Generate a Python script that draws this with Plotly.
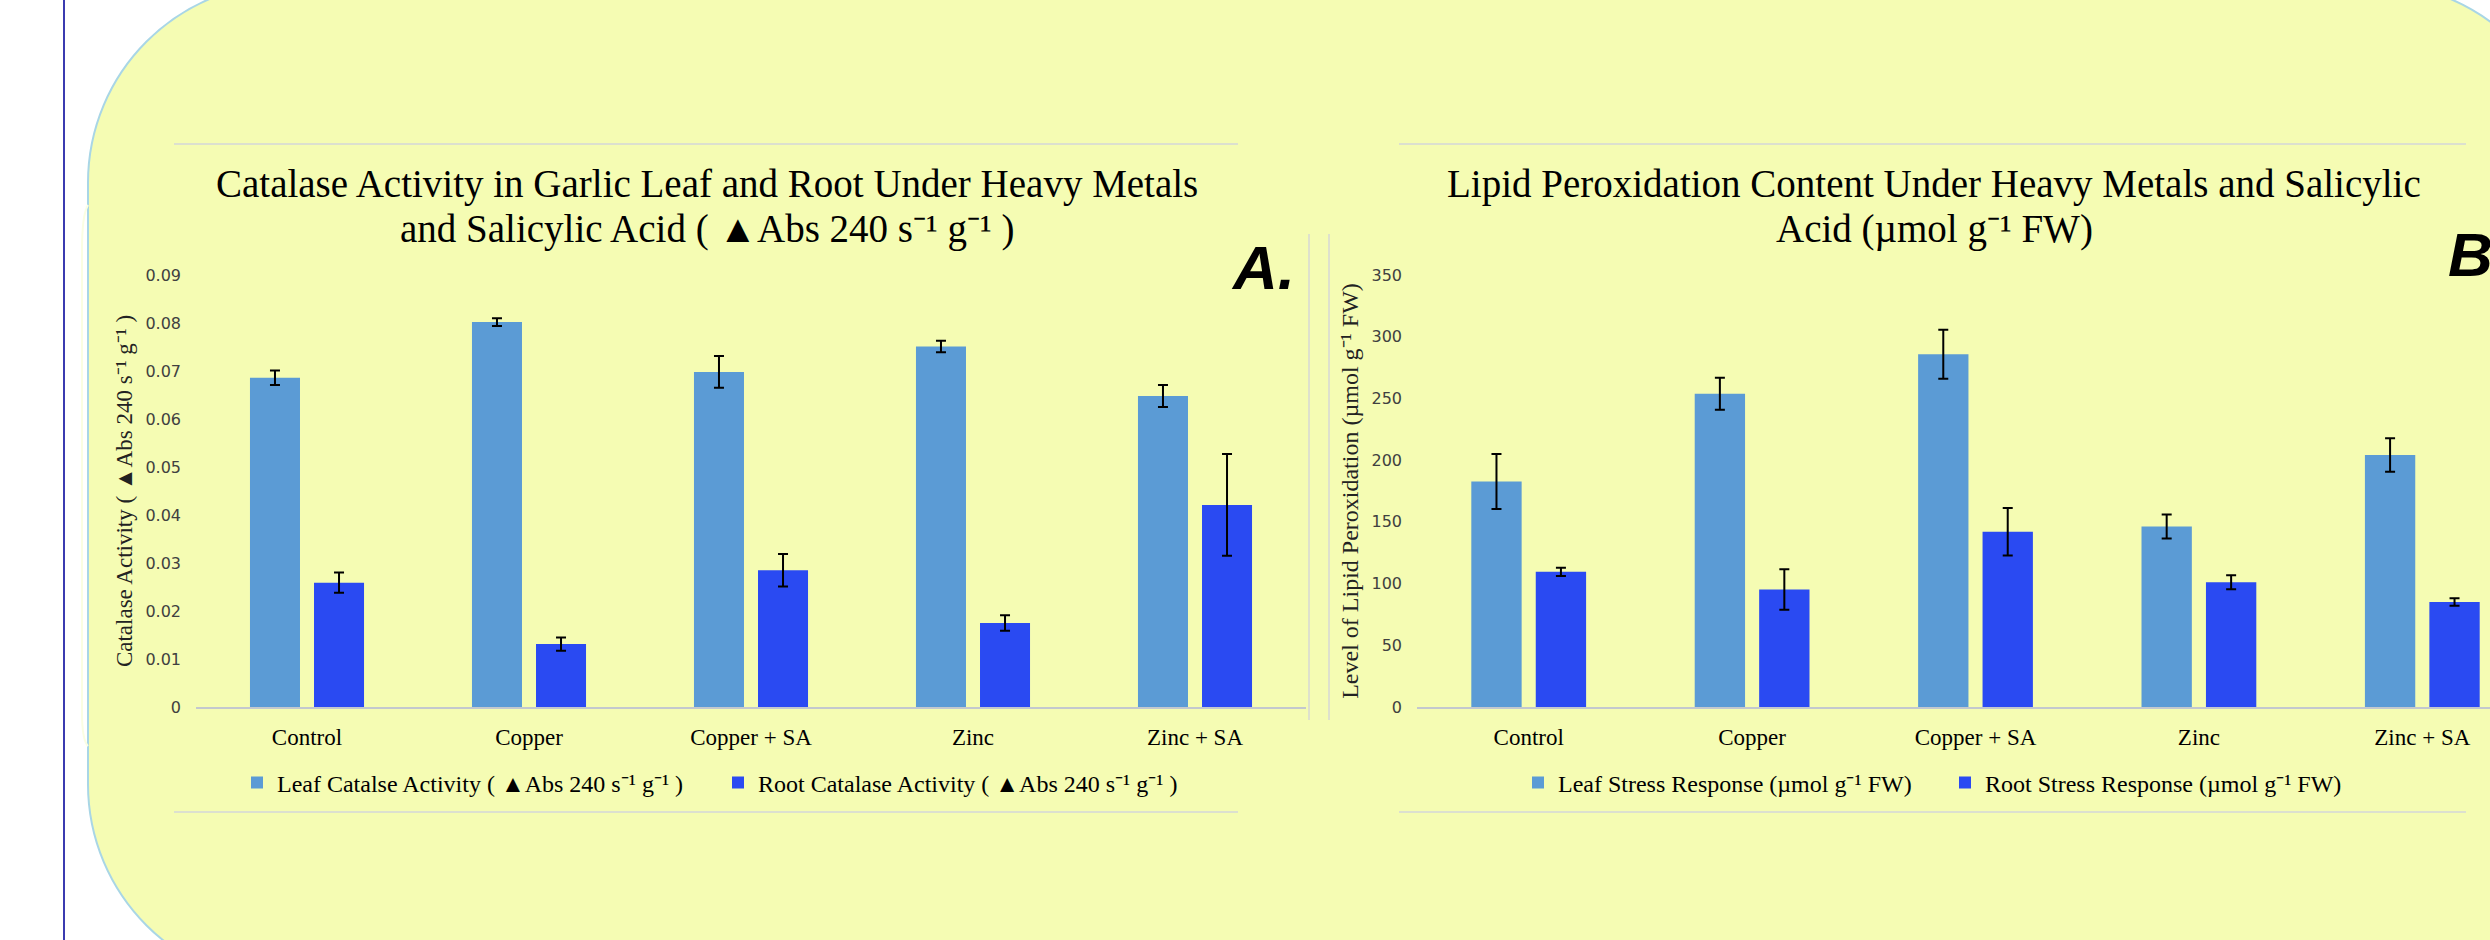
import plotly.graph_objects as go

W, H = 2490, 940

# ---------------- data ----------------
categories = ["Control", "Copper", "Copper + SA", "Zinc", "Zinc + SA"]

leaf_catalase = [0.0686, 0.0802, 0.0698, 0.0751, 0.0648]
leaf_catalase_err = [0.0015, 0.0008, 0.0033, 0.0012, 0.0023]
root_catalase = [0.0259, 0.0131, 0.0285, 0.0175, 0.0421]
root_catalase_err = [0.0021, 0.0014, 0.0034, 0.0016, 0.0106]

leaf_lipid = [182.7, 253.8, 285.8, 146.3, 204.2]
leaf_lipid_err = [22.3, 13.0, 19.9, 9.7, 13.6]
root_lipid = [109.5, 95.2, 142.0, 101.1, 85.1]
root_lipid_err = [3.4, 16.5, 19.2, 5.6, 3.0]

catalase_ticks = [0, 0.01, 0.02, 0.03, 0.04, 0.05, 0.06, 0.07, 0.08, 0.09]
lipid_ticks = [0, 50, 100, 150, 200, 250, 300, 350]

unit_a = "( \u25b2Abs 240 s\u207b\u00b9 g\u207b\u00b9 )"
unit_b = "(\u00b5mol g\u207b\u00b9 FW)"

title_a_lines = ["Catalase Activity in Garlic Leaf and Root Under Heavy Metals",
                 "and Salicylic Acid " + unit_a]
title_b_lines = ["Lipid Peroxidation Content Under Heavy Metals and Salicylic",
                 "Acid " + unit_b]
ytitle_a = "Catalase Activity " + unit_a
ytitle_b = "Level of Lipid Peroxidation " + unit_b
names_a = ["Leaf Catalse Activity " + unit_a, "Root Catalase Activity " + unit_a]
names_b = ["Leaf Stress Response " + unit_b, "Root Stress Response " + unit_b]

LEAF = "#5B9BD5"
ROOT = "#2A4AF2"
SERIF = "Liberation Serif, Times New Roman, serif"
SANS = "DejaVu Sans, sans-serif"


def fx(x):
    return x / W


def fy(y):
    return 1 - y / H


def pt(x, y):
    return f"{fx(x):.5f},{fy(y):.5f}"


fig = go.Figure()

err_style = dict(type="data", color="black", thickness=2, width=5, visible=True)

fig.add_trace(go.Bar(x=categories, y=leaf_catalase, name=names_a[0], marker_color=LEAF,
                     error_y=dict(array=leaf_catalase_err, **err_style),
                     xaxis="x", yaxis="y", legend="legend"))
fig.add_trace(go.Bar(x=categories, y=root_catalase, name=names_a[1], marker_color=ROOT,
                     error_y=dict(array=root_catalase_err, **err_style),
                     xaxis="x", yaxis="y", legend="legend"))
fig.add_trace(go.Bar(x=categories, y=leaf_lipid, name=names_b[0], marker_color=LEAF,
                     error_y=dict(array=leaf_lipid_err, **err_style),
                     xaxis="x2", yaxis="y2", legend="legend2"))
fig.add_trace(go.Bar(x=categories, y=root_lipid, name=names_b[1], marker_color=ROOT,
                     error_y=dict(array=root_lipid_err, **err_style),
                     xaxis="x2", yaxis="y2", legend="legend2"))
fig.update_traces(marker_line_width=0)

# ---------- background shapes ----------
k = 0.5523
r = 200
L, R, T, B = 88, 2572, -17, 984
path = (
    f"M {pt(L, T + r)} "
    f"C {pt(L, T + r - k * r)} {pt(L + r - k * r, T)} {pt(L + r, T)} "
    f"L {pt(R - r, T)} "
    f"C {pt(R - r + k * r, T)} {pt(R, T + r - k * r)} {pt(R, T + r)} "
    f"L {pt(R, B - r)} "
    f"C {pt(R, B - r + k * r)} {pt(R - r + k * r, B)} {pt(R - r, B)} "
    f"L {pt(L + r, B)} "
    f"C {pt(L + r - k * r, B)} {pt(L, B - r + k * r)} {pt(L, B - r)} Z"
)
shapes = [
    dict(type="path", path=path, xref="paper", yref="paper", layer="below",
         fillcolor="#F5FCB3", line=dict(color="#A9D6E6", width=2)),
    dict(type="line", xref="paper", yref="paper", x0=fx(64), x1=fx(64), y0=0, y1=1,
         line=dict(color="#3B3BB0", width=2)),
    # faint chart-area outline on the left
    dict(type="path", xref="paper", yref="paper", layer="below",
         path=f"M {pt(88, 205)} Q {pt(82, 215)} {pt(82, 250)} L {pt(82, 712)} Q {pt(82, 740)} {pt(88, 746)}",
         line=dict(color="#FBFEE2", width=2)),
]
for x0, x1 in [(174, 1238), (1399, 2466)]:
    shapes.append(dict(type="line", xref="paper", yref="paper", x0=fx(x0), x1=fx(x1),
                       y0=fy(144), y1=fy(144), line=dict(color="#D3D7D9", width=1.5)))
    shapes.append(dict(type="line", xref="paper", yref="paper", x0=fx(x0), x1=fx(x1),
                       y0=fy(812), y1=fy(812), line=dict(color="#D3D7D9", width=1.5)))
for xv in [1309, 1329]:
    shapes.append(dict(type="line", xref="paper", yref="paper", x0=fx(xv), x1=fx(xv),
                       y0=fy(234), y1=fy(720), line=dict(color="#D6D9D6", width=1.5)))

title_font = dict(family=SERIF, size=39, color="black")
annotations = []
for lines, cx in [(title_a_lines, 707), (title_b_lines, 1934)]:
    for line, cy in zip(lines, [184, 229]):
        annotations.append(dict(text=line, x=fx(cx), y=fy(cy), xref="paper", yref="paper",
                                xanchor="center", yanchor="middle", showarrow=False,
                                font=title_font))
annotations += [
    dict(text="<b><i>A.</i></b>", x=fx(1263), y=fy(267), xref="paper", yref="paper",
         xanchor="center", yanchor="middle", showarrow=False,
         font=dict(family="Liberation Sans, Arial, sans-serif", size=62, color="black")),
    dict(text="<b><i>B.</i></b>", x=fx(2446), y=fy(255), xref="paper", yref="paper",
         xanchor="left", yanchor="middle", showarrow=False,
         font=dict(family="Liberation Sans, Arial, sans-serif", size=62, color="black")),
]

xaxis_common = dict(type="category", showgrid=False, zeroline=False, showline=True,
                    linecolor="#C3C8CE", linewidth=2, ticks="",
                    tickfont=dict(family=SERIF, size=23, color="black"),
                    ticklabelstandoff=8)
yaxis_common = dict(showgrid=False, zeroline=False, showline=False, ticks="",
                    tickfont=dict(family=SANS, size=16, color="#404040"),
                    ticklabelstandoff=14, title_standoff=6)

legend_font = dict(family=SERIF, size=24, color="black")

fig.update_layout(
    width=W, height=H,
    margin=dict(l=0, r=0, t=0, b=0, autoexpand=False),
    paper_bgcolor="white", plot_bgcolor="rgba(0,0,0,0)",
    barmode="group", bargap=0.423, bargroupgap=0.219,
    showlegend=True,
    xaxis=dict(domain=[fx(196), fx(1306)], anchor="y", range=[-0.5, 4.5], **xaxis_common),
    yaxis=dict(domain=[fy(707), fy(275)], anchor="x", range=[0, 0.09],
               tickvals=catalase_ticks, title_text=ytitle_a,
               title_font=dict(family=SERIF, size=23, color="#222222"), **yaxis_common),
    xaxis2=dict(domain=[fx(1417), 1.0], anchor="y2", range=[-0.5, 4.303], **xaxis_common),
    yaxis2=dict(domain=[fy(707), fy(275)], anchor="x2", range=[0, 350],
                tickvals=lipid_ticks, title_text=ytitle_b,
                title_font=dict(family=SERIF, size=24, color="#222222"), **yaxis_common),
    legend=dict(orientation="h", x=fx(718), y=fy(783), xanchor="center", yanchor="middle",
                bgcolor="rgba(0,0,0,0)", font=legend_font,
                entrywidth=436, entrywidthmode="pixels", traceorder="normal"),
    legend2=dict(orientation="h", x=fx(1945), y=fy(783), xanchor="center", yanchor="middle",
                 bgcolor="rgba(0,0,0,0)", font=legend_font,
                 entrywidth=382, entrywidthmode="pixels", traceorder="normal"),
    shapes=shapes,
    annotations=annotations,
)

fig.write_html("out.html")
